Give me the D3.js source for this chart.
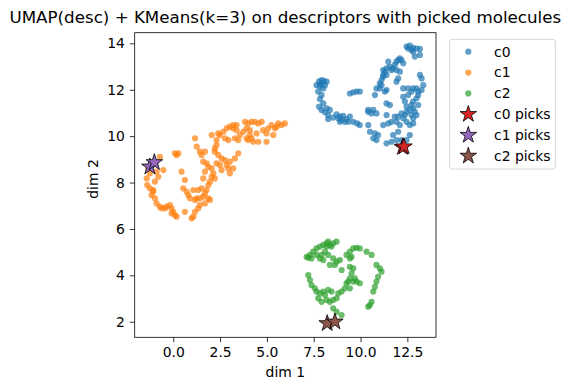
<!DOCTYPE html>
<html><head><meta charset="utf-8">
<script src="https://cdn.jsdelivr.net/npm/d3@7"></script>
<style>body{margin:0;background:#fff}svg{display:block}text{font-family:"DejaVu Sans",sans-serif}</style>
</head><body><div id="chart"></div>
<script>
const titleText = "UMAP(desc) + KMeans(k=3) on descriptors with picked molecules";
const xTicks = [0.0, 2.5, 5.0, 7.5, 10.0, 12.5];
const yTicks = [2, 4, 6, 8, 10, 12, 14];
const clusterNames = ["c0", "c1", "c2"];
const clusterColors = ["#1f77b4", "#ff7f0e", "#2ca02c"];
const pickColors = ["#d62728", "#9467bd", "#8c564b"];

const c0Points = [[7.78,12.35],[7.92,12.28],[8.04,12.38],[7.83,12.13],[8.01,12.06],[7.74,11.92],[7.92,11.77],[7.83,11.60],[8.01,11.41],[7.79,11.27],[7.92,11.13],[8.10,11.03],[8.27,10.91],[8.19,11.20],[8.36,11.13],[8.27,10.74],[7.83,12.23],[8.10,12.20],[7.65,12.20],[7.92,12.42],[8.19,12.35],
[8.72,10.94],[8.90,10.84],[9.07,10.88],[9.25,10.74],[8.99,10.70],[9.43,10.84],[9.61,10.62],[9.82,10.55],[9.96,10.48],[9.34,10.62],[9.16,10.62],[8.90,10.62],[8.54,10.80],[8.81,10.77],
[9.43,11.84],[9.61,11.89],[9.79,11.92],[9.96,11.92],
[10.41,11.05],[10.59,10.98],[10.85,10.98],[10.68,11.13],[10.41,11.13],[10.77,11.77],[11.30,11.92],
[10.41,10.48],[10.50,10.19],[10.68,9.91],[10.85,9.83],[10.77,10.12],[10.94,10.05],[11.21,10.48],[11.48,10.55],[11.39,9.69],[11.65,9.76],[11.92,9.83],[11.74,10.05],[12.01,10.19],[12.10,10.48],[12.28,10.77],[12.37,10.91],[12.46,10.62],[12.63,10.48],[12.81,10.55],[12.81,10.77],[12.72,10.91],[12.63,10.05],[12.19,9.83],[12.46,9.83],
[11.39,11.41],[11.57,11.34],[11.39,10.91],[11.65,10.62],[11.83,10.84],[11.92,10.62],[12.19,10.98],[12.01,10.84],
[10.85,12.06],[11.03,12.28],[11.12,12.42],[11.21,12.64],[11.30,12.78],[11.39,12.92],[11.57,12.99],[11.65,12.85],[11.74,12.92],[11.83,13.07],[11.92,13.21],[12.01,13.28],[12.10,13.35],[12.19,13.28],[12.28,13.14],[11.92,12.85],[12.10,12.78],[11.48,13.21],[11.21,12.85],[11.39,12.64],[11.12,12.20],[11.92,12.35],[12.01,12.49],[11.21,12.56],[11.03,12.06],[11.39,11.99],
[12.46,13.86],[12.63,13.90],[12.81,13.81],[12.99,13.78],[13.17,13.76],[12.81,13.64],[12.90,13.43],[13.17,13.50],[12.72,13.71],[12.54,13.78],
[13.17,12.64],[13.26,12.49],[13.35,12.20],[13.26,11.99],[13.08,11.77],[12.99,11.63],[13.08,11.34],[12.81,11.20],[12.90,11.05],[12.63,11.13],[12.46,11.27],[12.37,11.49],[12.28,11.70],[12.54,11.77],[12.72,11.92],[12.81,12.06],[12.99,12.06],[13.08,11.92],[12.54,12.06],[12.28,12.06],[12.81,11.49],[12.72,11.34],[12.99,10.91],[12.46,11.05]];

const c1Points = [[-1.33,8.61],[-1.25,8.40],[-1.42,8.18],[-1.39,7.89],[-1.25,7.75],[-1.07,7.61],[-1.16,7.46],[-0.98,7.32],[-0.89,7.10],[-0.71,6.96],[-0.62,6.89],[-0.36,6.96],[-0.18,7.03],[-0.09,6.89],[0.00,6.74],[0.09,6.60],[0.18,6.53],[-0.09,6.67],[-0.44,6.89],[-0.71,9.11],[-0.98,8.04],[-1.07,7.68],[-0.80,8.25],[-0.53,8.54],[-0.89,8.47],
[0.09,9.26],[0.27,9.26],[0.18,9.19],
[0.44,8.47],[0.62,8.11],[0.53,7.75],[0.71,7.61],[0.80,7.46],[0.89,7.32],[1.07,7.68],[1.33,7.68],[1.51,7.75],[1.25,7.32],[1.16,7.25],[1.42,7.32],[1.60,7.39],[1.69,7.53],[1.87,7.32],[1.78,7.68],[1.87,7.89],[1.96,8.04],[2.05,8.25],[2.14,8.40],[2.22,8.18],[1.96,7.25],[1.69,7.10],[1.42,7.03],[1.33,6.89],[1.16,6.74],[1.07,6.53],[0.98,6.46],[0.62,6.74],
[1.25,9.55],[1.16,9.91],[1.42,9.33],[1.60,8.90],[1.51,9.19],[1.69,9.33],[1.69,8.47],[1.60,8.18],[1.78,8.83],[1.87,8.68],[2.05,8.61],[2.31,8.83],[2.49,8.76],[2.58,9.04],[2.76,8.97],[2.85,8.76],[2.94,8.61],[3.02,8.90],[3.02,8.40],[3.20,8.61],[3.29,9.04],[3.47,9.26],[2.58,8.54],[2.40,9.19],[2.22,9.33],
[2.31,9.83],[2.05,10.05],[2.40,10.12],[2.31,9.62],[2.22,9.47],[2.49,10.05],[2.67,10.19],[2.85,10.34],[3.02,10.41],[3.20,10.34],[3.38,10.26],[2.76,9.91],[2.94,9.83],[3.29,9.91],[3.47,9.83],[3.38,10.48],[3.20,10.48],[3.56,10.05],[3.74,10.19],
[4.00,10.55],[4.18,10.62],[4.36,10.62],[4.54,10.55],[4.72,10.62],[3.91,10.34],[4.09,10.26],[3.91,9.91],[4.00,9.83],[4.18,9.91],[4.27,9.76],[4.09,10.05],[4.45,10.12],[4.54,9.76],[4.98,9.76],[4.98,10.12],[5.07,10.34],[5.25,10.48],[5.43,10.34],[5.60,10.55],[5.78,10.48],[5.96,10.55],[5.52,10.41],[5.34,10.05],[4.80,10.26],[3.83,10.62]];

const c2Points = [[7.12,4.80],[7.30,4.88],[7.47,5.02],[7.65,5.16],[7.83,5.24],[8.01,5.31],[8.19,5.38],[8.27,5.45],[8.36,5.31],[8.54,5.38],[8.72,5.45],[8.10,5.02],[8.27,4.88],[8.54,4.73],[8.72,4.59],[8.90,4.66],[8.63,4.45],[8.36,4.45],[8.01,4.66],[7.83,4.73],[7.65,4.88],[7.38,4.73],[7.21,4.76],[8.19,5.24],[8.45,5.24],[7.92,4.88],
[9.25,4.88],[9.43,5.02],[9.61,5.16],[9.79,5.19],[9.96,5.16],[10.32,5.02],[10.59,4.88],[9.52,4.80],[9.43,4.73],
[8.99,4.23],[9.43,4.37],[9.61,4.30],[9.52,4.09],[9.43,3.87],[9.25,3.66],[9.43,3.44],[9.61,3.73],[9.79,3.73],[9.96,3.66],[9.70,3.87],[9.34,3.73],[9.16,3.44],[8.99,3.30],[8.81,3.22],
[10.85,4.45],[11.03,4.30],[11.12,4.16],[10.94,3.94],[10.85,3.73],[10.77,3.51],[10.68,3.30],[10.59,2.86],[10.50,2.72],[10.41,2.65],
[7.21,4.01],[7.30,3.80],[7.38,3.58],[7.56,3.44],[7.65,3.30],[7.83,3.22],[8.01,3.30],[8.10,3.15],[8.19,2.94],[8.36,2.86],[8.54,2.94],[8.72,3.01],[8.45,3.30],[8.27,3.37],[8.54,2.58],[8.72,2.43],[8.99,2.29],[7.92,2.86],[7.74,3.01]];

const c0Picks = [[12.24,9.52],[12.32,9.55]];
const c1Picks = [[-1.25,8.68],[-1.01,8.87]];
const c2Picks = [[8.22,1.93],[8.63,2.00]];

const W = 569, H = 390;
const FS = 13.9;
const m = {left: 134.7, right: 436, top: 32.7, bottom: 337.3};
const svg = d3.select("#chart").append("svg").attr("width", W).attr("height", H);
const x = d3.scaleLinear().domain([-2.06, 14.03]).range([m.left, m.right]);
const y = d3.scaleLinear().domain([1.33, 14.46]).range([m.bottom, m.top]);

svg.append("defs").append("clipPath").attr("id","clip").append("rect")
  .attr("x", m.left).attr("y", m.top).attr("width", m.right-m.left).attr("height", m.bottom-m.top);

const plot = svg.append("g").attr("clip-path","url(#clip)");
[c0Points, c1Points, c2Points].forEach((pts, i) => {
  plot.append("g").selectAll("circle").data(pts).join("circle")
    .attr("cx", d => x(d[0])).attr("cy", d => y(d[1])).attr("r", 3.1)
    .attr("fill", clusterColors[i]).attr("fill-opacity", 0.7);
});
const star = d3.symbol().type(d3.symbolStar).size(85);
[c0Picks, c1Picks, c2Picks].forEach((pts, i) => {
  plot.append("g").selectAll("path").data(pts).join("path")
    .attr("d", star).attr("transform", d => `translate(${x(d[0])},${y(d[1])})`)
    .attr("fill", pickColors[i]).attr("stroke", "#000").attr("stroke-width", 0.8);
});

// axes
const xAxis = d3.axisBottom(x).tickValues(xTicks).tickFormat(d3.format(".1f")).tickSize(4.9).tickPadding(4.9);
const yAxis = d3.axisLeft(y).tickValues(yTicks).tickFormat(d3.format("d")).tickSize(4.9).tickPadding(4.9);
const gx = svg.append("g").attr("transform", `translate(0,${m.bottom})`).call(xAxis);
const gy = svg.append("g").attr("transform", `translate(${m.left},0)`).call(yAxis);
[gx, gy].forEach(g => {
  g.select(".domain").remove();
  g.selectAll(".tick line").attr("stroke", "#000").attr("stroke-width", 0.8);
  g.selectAll(".tick text").attr("font-size", FS).attr("fill", "#000").attr("font-family", "DejaVu Sans");
});
svg.append("rect").attr("x", m.left).attr("y", m.top).attr("width", m.right-m.left).attr("height", m.bottom-m.top)
  .attr("fill", "none").attr("stroke", "#000").attr("stroke-width", 0.8);

svg.append("text").attr("x", (m.left+m.right)/2).attr("y", 23).attr("text-anchor","middle")
  .attr("font-size", 16.7).text(titleText);
svg.append("text").attr("x", (m.left+m.right)/2).attr("y", 376.5).attr("text-anchor","middle")
  .attr("font-size", FS).text("dim 1");
svg.append("text").attr("transform", `translate(98,179) rotate(-90)`).attr("text-anchor","middle")
  .attr("font-size", FS).text("dim 2");

// legend
const lg = svg.append("g");
lg.append("rect").attr("x", 449.7).attr("y", 39.3).attr("width", 105.6).attr("height", 129.7).attr("rx", 2.5)
  .attr("fill", "#fff").attr("fill-opacity", 0.8).attr("stroke", "#cccccc").attr("stroke-width", 0.8);
const entries = clusterNames.map((n, i) => ({label: n, type: "dot", color: clusterColors[i]}))
  .concat(clusterNames.map((n, i) => ({label: n + " picks", type: "star", color: pickColors[i]})));
entries.forEach((e, i) => {
  const cy = 51.7 + i * 20.85;
  if (e.type === "dot") {
    lg.append("circle").attr("cx", 468.3).attr("cy", cy).attr("r", 3.1).attr("fill", e.color).attr("fill-opacity", 0.7);
  } else {
    lg.append("path").attr("d", star).attr("transform", `translate(468.3,${cy})`)
      .attr("fill", e.color).attr("stroke", "#000").attr("stroke-width", 0.8);
  }
  lg.append("text").attr("x", 494).attr("y", cy).attr("dy", "0.35em").attr("font-size", FS).text(e.label);
});
</script></body></html>
